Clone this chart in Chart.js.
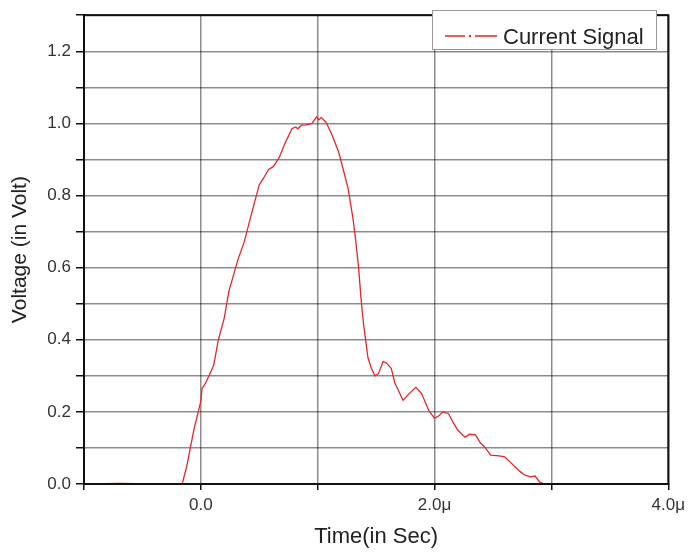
<!DOCTYPE html>
<html>
<head>
<meta charset="utf-8">
<script src="https://cdn.jsdelivr.net/npm/chart.js@4.4.0/dist/chart.umd.min.js"></script>
<style>
  html, body { margin: 0; padding: 0; background: #fff; }
  #wrap { width: 690px; height: 554px; position: relative; }
</style>
</head>
<body>
<div id="wrap"><canvas id="signalChart"></canvas></div>
<script>
// time in microseconds, voltage in volts
const timeUs = [-1.0, -0.7, -0.4, -0.16, -0.12, -0.06, 0.0, 0.01, 0.04, 0.07, 0.11, 0.15, 0.2, 0.24, 0.28, 0.32,
  0.37, 0.41, 0.45, 0.5, 0.54, 0.58, 0.62, 0.67, 0.72, 0.78, 0.81, 0.83, 0.86, 0.9, 0.95, 0.99, 1.01, 1.03, 1.07, 1.12, 1.18,
  1.22, 1.26, 1.3, 1.32, 1.35, 1.37, 1.39, 1.43, 1.46, 1.49, 1.52, 1.56, 1.59, 1.63, 1.66, 1.69, 1.73, 1.78,
  1.84, 1.89, 1.95, 2.0, 2.04, 2.07, 2.12, 2.16, 2.2, 2.26, 2.3, 2.35, 2.39, 2.43, 2.48, 2.55, 2.6, 2.65,
  2.69, 2.73, 2.77, 2.82, 2.86, 2.9, 2.94];
const voltage = [0.0, 0.002, 0.0, 0.0, 0.05, 0.15, 0.23, 0.265, 0.28, 0.30, 0.33, 0.40, 0.46, 0.535, 0.58, 0.625,
  0.67, 0.72, 0.77, 0.83, 0.85, 0.872, 0.88, 0.905, 0.945, 0.985, 0.99, 0.985, 0.995, 0.996, 1.0, 1.018, 1.01, 1.016, 1.004, 0.97, 0.92,
  0.87, 0.82, 0.74, 0.69, 0.6, 0.516, 0.45, 0.35, 0.32, 0.30, 0.306, 0.34, 0.335, 0.32, 0.28, 0.26, 0.232, 0.25,
  0.268, 0.25, 0.204, 0.182, 0.19, 0.20, 0.195, 0.17, 0.149, 0.13, 0.138, 0.136, 0.115, 0.102, 0.08, 0.078, 0.075, 0.06,
  0.047, 0.035, 0.025, 0.02, 0.022, 0.005, 0.0];
const seriesLabel = 'Current Signal';
const xTitle = 'Time(in Sec)';
const yTitle = 'Voltage (in Volt)';

const FONT = '"Liberation Sans", Arial, sans-serif';
const RED = '#e4262c';
const GRID = 'rgba(0,0,0,0.45)';

const framePlugin = {
  id: 'frame',
  afterDraw(chart) {
    const { ctx, chartArea: a } = chart;
    ctx.save();
    ctx.strokeStyle = '#111';
    ctx.lineWidth = 2;
    ctx.strokeRect(a.left, a.top, a.right - a.left, a.bottom - a.top);

    // legend box
    const bx = 432, by = 10, bw = 224, bh = 39;
    ctx.fillStyle = '#fff';
    ctx.fillRect(bx, by, bw, bh);
    ctx.strokeStyle = '#999';
    ctx.lineWidth = 1;
    ctx.strokeRect(bx + 0.5, by + 0.5, bw, bh);
    ctx.strokeStyle = RED;
    ctx.lineWidth = 1.5;
    ctx.beginPath();
    ctx.moveTo(445, 36); ctx.lineTo(465, 36);
    ctx.moveTo(475, 36); ctx.lineTo(497, 36);
    ctx.stroke();
    ctx.fillStyle = RED;
    ctx.fillRect(469, 35, 2, 2);
    ctx.fillStyle = '#222';
    ctx.font = '22px ' + FONT;
    ctx.textBaseline = 'alphabetic';
    ctx.fillText(seriesLabel, 503, 44);
    ctx.restore();
  }
};

new Chart(document.getElementById('signalChart'), {
  type: 'line',
  data: {
    datasets: [{
      label: seriesLabel,
      data: timeUs.map((t, i) => ({ x: t, y: voltage[i] })),
      borderColor: RED,
      borderWidth: 1.3,
      pointRadius: 0,
      tension: 0
    }]
  },
  options: {
    responsive: true,
    maintainAspectRatio: false,
    animation: false,
    layout: { padding: { top: 13, right: 20, left: 0, bottom: 0 } },
    plugins: { legend: { display: false }, tooltip: { enabled: false } },
    scales: {
      x: {
        type: 'linear',
        min: -1, max: 4,
        afterFit: s => { s.height = 70; },
        border: { color: '#111', width: 2 },
        grid: { color: GRID, lineWidth: 1.5, tickColor: '#111', tickLength: 6 },
        ticks: {
          stepSize: 1,
          padding: 5,
          color: '#333',
          font: { family: FONT, size: 17 },
          maxRotation: 0,
          autoSkip: false,
          callback: v => {
            if (v === 0) return '0.0';
            if (v === 2 || v === 4) return v.toFixed(1) + 'μ';
            return '';
          }
        },
        title: { display: true, text: xTitle, color: '#222', font: { family: FONT, size: 22 }, padding: { top: 6 } }
      },
      y: {
        min: 0, max: 1.3,
        afterFit: s => { s.width = 84; },
        border: { color: '#111', width: 2 },
        grid: { color: GRID, lineWidth: 1.5, tickColor: '#111', tickLength: 8 },
        ticks: {
          stepSize: 0.1,
          padding: 5,
          color: '#333',
          font: { family: FONT, size: 17 },
          autoSkip: false,
          callback: v => Math.round(v * 10) % 2 === 0 ? v.toFixed(1) : ''
        },
        title: { display: true, text: yTitle, color: '#222', font: { family: FONT, size: 21 }, padding: { top: 8, bottom: 4 } }
      }
    }
  },
  plugins: [framePlugin]
});
</script>
</body>
</html>
